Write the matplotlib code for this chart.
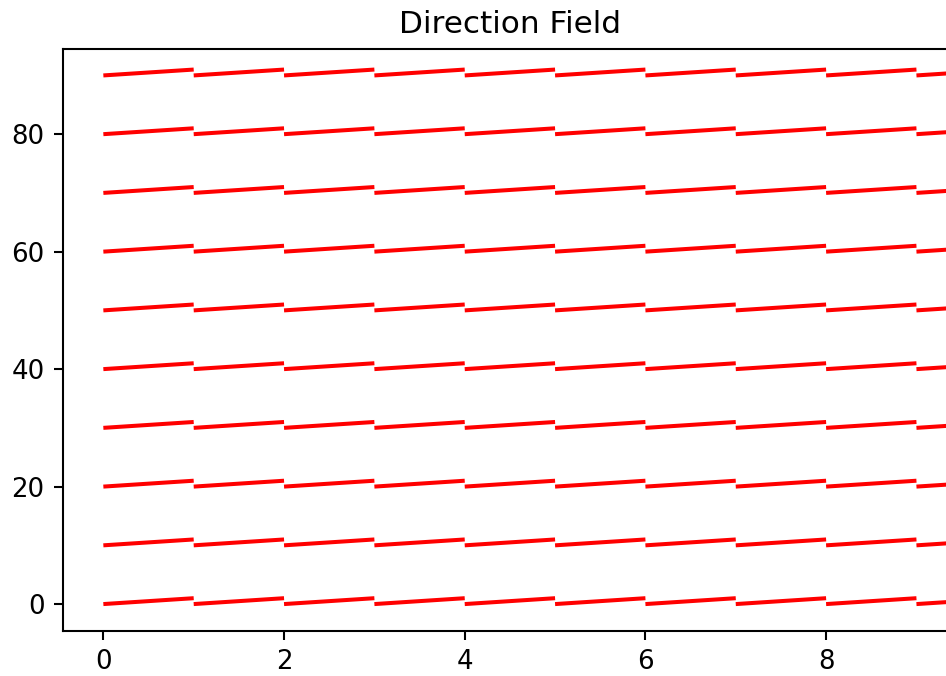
import numpy as np
import matplotlib
matplotlib.use("Agg")
import matplotlib.pyplot as plt

# grid of starting points and the slope at each one
x_pts = [0, 1, 2, 3, 4, 5, 6, 7, 8, 9]
y_pts = [0, 10, 20, 30, 40, 50, 60, 70, 80, 90]
slope = 1.0

X, Y = np.meshgrid(x_pts, y_pts)
U = np.ones_like(X, dtype=float)
V = slope * np.ones_like(Y, dtype=float)

dpi = 187
fig = plt.figure(figsize=(946 / dpi, 676 / dpi), dpi=dpi)
ax = fig.add_axes([62.7 / 946, (676 - 630.5) / 676, 894.4 / 946, 581.5 / 676])

ax.quiver(X, Y, U, V, angles='xy', scale_units='xy', scale=1,
          headwidth=0, headlength=0, headaxislength=0,
          color='red', width=0.0045)

ax.set_title("Direction Field")
fig.savefig("out.png", dpi=dpi)
